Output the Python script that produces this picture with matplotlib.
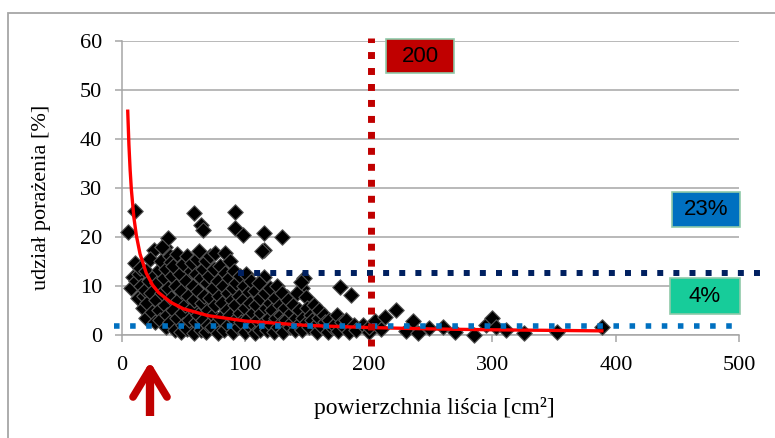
import matplotlib
matplotlib.use("Agg")
import matplotlib.pyplot as plt
from matplotlib.patches import Rectangle
from matplotlib.lines import Line2D

# ---------------- data ----------------
area_cm2 = [
    5, 11, 26, 35, 38, 59, 64, 66, 92, 92, 98, 115, 115, 130, 115, 148, 177, 186, 146, 134,
    8, 9, 11, 12, 13, 14, 15, 16, 17, 18, 19, 20, 20,
    21, 22, 23, 24, 25, 26, 27, 28, 29, 30, 30,
    31, 32, 33, 33, 34, 35, 36, 36, 37, 38, 39, 39, 40, 40,
    41, 42, 42, 43, 44, 45, 45, 46, 47, 48, 48, 49, 50, 50,
    51, 52, 53, 53, 54, 55, 56, 57, 57, 58, 59, 59, 60, 60,
    61, 62, 62, 63, 64, 64, 65, 66, 66, 67, 68, 68, 69, 70, 70,
    71, 72, 72, 73, 74, 74, 75, 76, 76, 77, 78, 78, 79, 80,
    80, 81, 82, 83, 84, 84, 85, 86, 86, 87, 88, 88, 89, 90, 90,
    91, 92, 92, 93, 94, 95, 96, 96, 97, 98, 99, 100, 100,
    101, 102, 103, 104, 104, 105, 106, 107, 108, 108, 109, 110,
    111, 112, 112, 113, 114, 115, 116, 117, 118, 119, 120, 120,
    121, 122, 123, 124, 125, 126, 127, 128, 129, 130, 130,
    131, 132, 133, 135, 136, 137, 138, 139, 140,
    141, 142, 143, 144, 145, 146, 147, 149, 150, 150,
    152, 153, 154, 156, 157, 158, 160, 160,
    162, 164, 165, 167, 168, 170, 172, 174, 175, 178, 180, 182, 184, 188,
    190, 195, 200, 200, 205, 210, 213, 222, 230, 236, 240, 249, 260, 270,
    285, 295, 300, 303, 311, 326, 352, 389,
]
infection_pct = [
    21, 25.3, 17.3, 18, 19.8, 24.9, 22.4, 21.4, 25.1, 21.8, 20.4, 20.8, 17.3, 20, 11.8, 11.6, 9.8, 8.2, 9.6, 7.8,
    9.5, 11.8, 14.6, 11, 7.5, 12.5, 13.7, 10, 5.5, 8, 9.2, 3.5, 13,
    6.5, 11, 15.5, 8.5, 4.7, 12, 2.5, 7, 10.5, 13.2, 5,
    3, 15, 18, 8.5, 11.5, 6, 1.5, 13.5, 4, 9.5, 16, 2.5, 7.5, 14.9,
    12, 5, 14, 1, 10, 3.5, 16.5, 7, 12.5, 0.5, 9, 4.5, 14.5, 2,
    6, 11, 16, 1.2, 8, 3, 13, 14.6, 5.5, 10, 0.3, 7, 12.5, 2.5,
    15.5, 4, 9, 17, 1, 11.5, 6.5, 13.5, 3, 8, 15, 0.5, 10.5, 5, 2,
    12, 7.5, 16, 1.5, 9.5, 4, 13.5, 16.7, 6, 2.5, 11, 0.3, 8, 14,
    3.5, 6.5, 10, 1, 12.6, 16.7, 5, 8.5, 2, 11.5, 4, 15, 7, 0.5, 9.5,
    13, 3, 6, 10.5, 1.5, 8, 12, 4.5, 2.5, 7, 10, 0.5, 5.5,
    12.5, 3.5, 8.8, 1.5, 6.5, 11, 4.5, 2, 9, 0.3, 6, 3,
    10.5, 1, 7.5, 4.5, 17, 2.5, 8.5, 5.5, 1, 3.5, 9.5, 6.5,
    2, 5, 0.5, 7.5, 3.5, 10, 1.5, 6, 4, 8.6, 2.5,
    0.5, 5.5, 3, 7, 1.5, 4.5, 2.5, 6, 1,
    3.5, 8.5, 2, 5, 10.8, 1, 3.5, 7.8, 2.5, 5.5,
    1.5, 4, 3, 6, 2, 0.5, 3.5, 5,
    1.5, 4, 2.5, 0.5, 3, 1.5, 2, 4, 0.8, 2.5, 1.5, 3, 0.5, 2,
    1, 2, 0.5, 1.5, 2.7, 1.2, 3.7, 5.1, 0.8, 2.7, 0.3, 1.4, 1.6, 0.5,
    0, 2, 3.5, 1.6, 1, 0.4, 0.6, 1.6,
]

# power trendline
trend_x = [5, 6, 7, 8, 10, 12, 15, 20, 25, 30, 40, 50, 70, 100, 150, 200, 250, 300, 390]
trend_y = [46.0, 38.8, 33.6, 29.6, 24.0, 20.3, 16.5, 12.6, 10.2, 8.6, 6.6, 5.3, 3.9, 2.8, 1.9, 1.46, 1.18, 1.0, 0.78]

threshold_area = 202          # vertical dotted line
level_high = 12.6             # navy dotted line
level_high_x = [94, 522]
level_low = 1.7               # light blue dotted line
level_low_x = [-6, 500]

x_ticks = [0, 100, 200, 300, 400, 500]
y_ticks = [0, 10, 20, 30, 40, 50, 60]

box_labels = ["200", "23%", "4%"]

# ---------------- figure ----------------
W, H = 775, 438
fig = plt.figure(figsize=(W / 100, H / 100), dpi=100)
fig.patch.set_facecolor("white")

def fx(px):
    return px / W

def fy(py):
    return 1 - py / H

ax = fig.add_axes([fx(121.5), fy(334.7), (739.5 - 121.5) / W, (334.7 - 41) / H])
ax.set_xlim(0, 500)
ax.set_ylim(0, 60)
ax.set_xticks(x_ticks)
ax.set_yticks(y_ticks)

grid_c = "#A6A6A6"
ax.yaxis.grid(True, color=grid_c, lw=1.1)
ax.set_axisbelow(True)
for s in ["top", "right"]:
    ax.spines[s].set_visible(False)
for s in ["left", "bottom"]:
    ax.spines[s].set_color(grid_c)
    ax.spines[s].set_linewidth(1.1)
ax.tick_params(axis="both", direction="out", length=5, width=1.1, color=grid_c,
               labelsize=16)
ax.tick_params(axis="x", pad=10)
ax.tick_params(axis="y", pad=9)
for lab in ax.get_xticklabels() + ax.get_yticklabels():
    lab.set_fontfamily("Liberation Serif")

# scatter
ax.scatter(area_cm2, infection_pct, marker="D", s=62, facecolor="black",
           edgecolor="#555555", linewidths=0.8, clip_on=False, zorder=3)

# trend line
ax.plot(trend_x, trend_y, color="#FF0000", lw=2.4, zorder=4, solid_capstyle="butt")

# dotted reference lines
ax.plot([threshold_area, threshold_area], [-2.3, 60.6], color="#C00000", lw=5.0,
        dashes=(1, 1.3), clip_on=False, zorder=6, dash_capstyle="butt")
ax.plot(level_high_x, [level_high, level_high], color="#002060", lw=4.3,
        dashes=(1, 1.7), clip_on=False, zorder=5)
ax.plot(level_low_x, [level_low, level_low], color="#0070C0", lw=4.0,
        dashes=(1, 1.9), clip_on=False, zorder=5)

# axis labels
fig.text(fx(42), fy(197), "udział porażenia [%]", rotation=90, ha="center", va="center",
         fontsize=16, family="Liberation Serif")
fig.text(fx(434), fy(408), "powierzchnia liścia [cm²]", ha="center", va="center",
         fontsize=17, family="Liberation Serif")

# coloured boxes
boxes = [
    (box_labels[0], 386, 39, 454, 73, "#C00000"),
    (box_labels[1], 672, 192, 740, 227, "#0070C0"),
    (box_labels[2], 670, 278, 740, 314, "#17CC9A"),
]
for txt, x0, y0, x1, y1, fc in boxes:
    r = Rectangle((fx(x0), fy(y1)), (x1 - x0) / W, (y1 - y0) / H, transform=fig.transFigure,
                  facecolor=fc, edgecolor="#8FC9A9", lw=1.2, zorder=10)
    fig.add_artist(r)
    fig.text(fx((x0 + x1) / 2), fy((y0 + y1) / 2), txt, ha="center", va="center",
             fontsize=16, family="Liberation Sans", color="black", zorder=11)

# red arrow (annotation)
arrow_c = "#C00000"
fig.add_artist(Line2D([fx(150), fx(150)], [fy(416), fy(372)], transform=fig.transFigure,
                      color=arrow_c, lw=6, solid_capstyle="butt"))
for wx in (133, 167):
    fig.add_artist(Line2D([fx(150), fx(wx)], [fy(369), fy(397)], transform=fig.transFigure,
                          color=arrow_c, lw=5.5, solid_capstyle="round"))

# outer chart border
fig.add_artist(Rectangle((fx(7.5), fy(450)), (800 - 7.5) / W, (450 - 13) / H,
                         transform=fig.transFigure, facecolor="none",
                         edgecolor="#A6A6A6", lw=1.3))

fig.savefig("out.png", dpi=100)
